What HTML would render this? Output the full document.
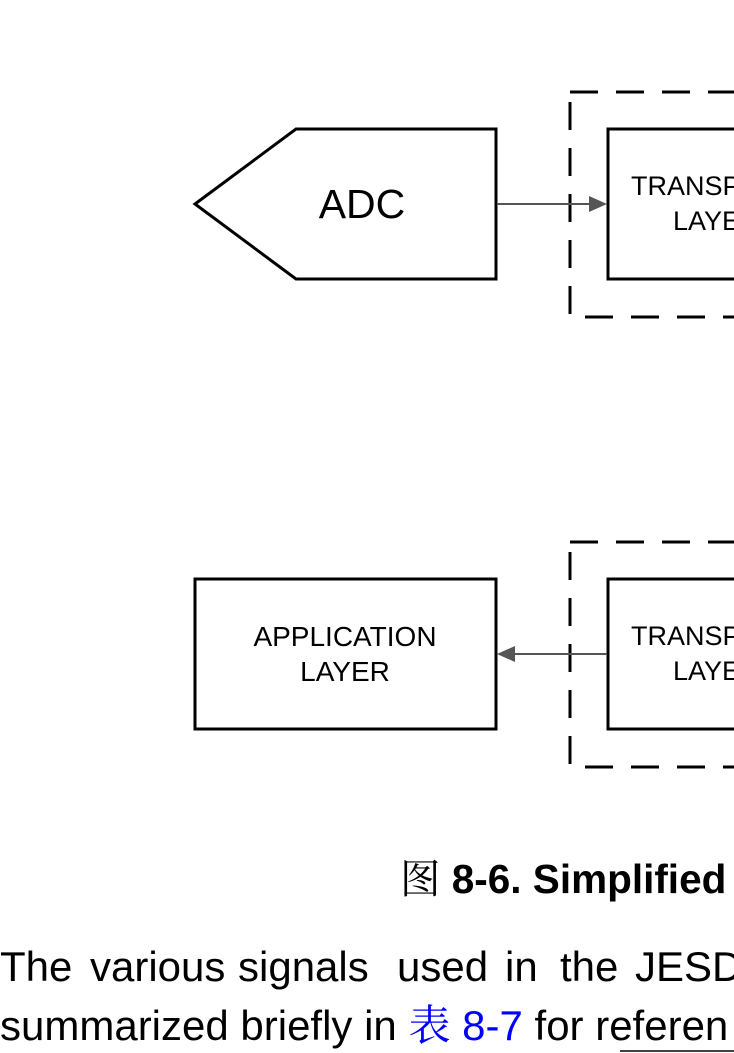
<!DOCTYPE html>
<html><head><style>
html,body{margin:0;padding:0;background:#fff;}
body{width:734px;height:1053px;overflow:hidden;position:relative;font-family:"Liberation Sans","Noto Sans CJK SC",sans-serif;}
.t{position:absolute;white-space:nowrap;font-size:42px;color:#000;top:943px;}
.t2{top:993px;}
</style></head><body>
<svg width="734" height="1053" style="position:absolute;left:0;top:0" font-family="Liberation Sans, sans-serif">
<polygon points="195,204 296,129 496,129 496,279 296,279" fill="none" stroke="#000" stroke-width="3"/>
<text x="362" y="218" font-size="41" text-anchor="middle">ADC</text>
<rect x="570" y="92" width="300" height="225" fill="none" stroke="#000" stroke-width="3" stroke-dasharray="28 18"/>
<rect x="608" y="129" width="200" height="150" fill="none" stroke="#000" stroke-width="3"/>
<text x="631" y="195" font-size="27">TRANSPORT</text>
<text x="673" y="230" font-size="27">LAYER</text>
<line x1="497" y1="204" x2="590" y2="204" stroke="#555" stroke-width="2"/>
<polygon points="607,204 589,196 589,212" fill="#555"/>
<rect x="195" y="579" width="301" height="150" fill="none" stroke="#000" stroke-width="3"/>
<text x="345" y="646" font-size="28" text-anchor="middle">APPLICATION</text>
<text x="345" y="681" font-size="28" text-anchor="middle">LAYER</text>
<rect x="570" y="542" width="300" height="225" fill="none" stroke="#000" stroke-width="3" stroke-dasharray="28 18"/>
<rect x="608" y="579" width="200" height="150" fill="none" stroke="#000" stroke-width="3"/>
<text x="631" y="645" font-size="27">TRANSPORT</text>
<text x="673" y="680" font-size="27">LAYER</text>
<line x1="514" y1="654" x2="607" y2="654" stroke="#555" stroke-width="2"/>
<polygon points="497,654 515,646 515,662" fill="#555"/>
<line x1="620" y1="1051" x2="734" y2="1051" stroke="#000" stroke-width="1.5"/>
</svg>
<div class="t" style="top:846px;left:400px;font-size:40.5px;"><span style="font-family:'Noto Serif CJK SC','Noto Sans CJK SC',serif;font-weight:normal">图</span> <b>8-6. Simplified</b></div>
<div class="t" style="left:0">The</div>
<div class="t" style="left:90px">various</div>
<div class="t" style="left:238px">signals</div>
<div class="t" style="left:397px">used</div>
<div class="t" style="left:505px">in</div>
<div class="t" style="left:560px">the</div>
<div class="t" style="left:635px">JESD</div>
<div class="t t2" style="left:0">summarized briefly in <span style="color:#00f"><span style="font-family:'Noto Serif CJK SC',serif">表</span> 8-7</span> for referen</div>
</body></html>
